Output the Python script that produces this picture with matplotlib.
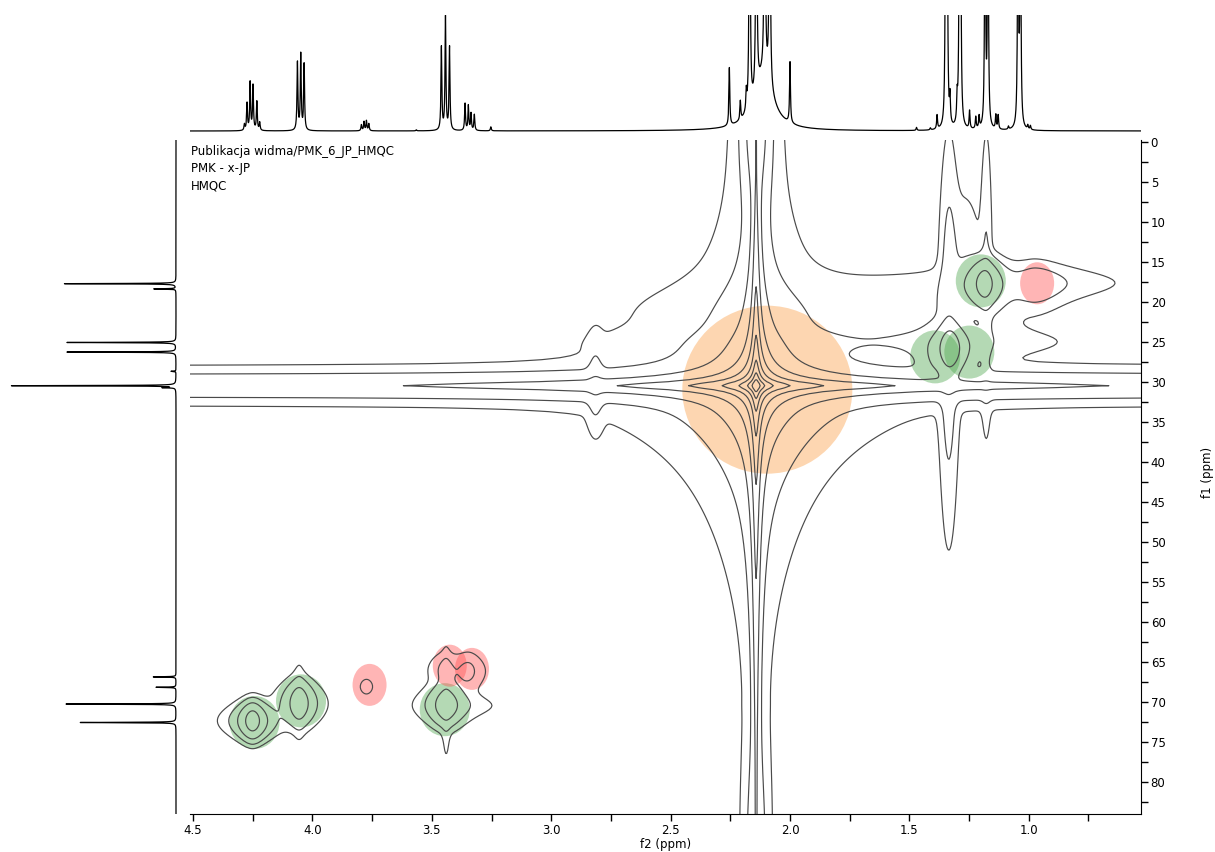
import numpy as np
import matplotlib
matplotlib.use("Agg")
import matplotlib.pyplot as plt
from matplotlib.patches import Ellipse

# 1H trace (top): line positions (ppm) and heights (px above baseline)
h_ppm = [4.285, 4.274, 4.261, 4.249, 4.233, 4.221,
         4.063, 4.049, 4.035,
         3.795, 3.784, 3.774, 3.764, 3.565,
         3.460, 3.443, 3.426,
         3.361, 3.347, 3.336, 3.322, 3.253,
         2.254, 2.208, 2.183, 2.169, 2.141, 2.106, 2.085, 2.000,
         1.470, 1.412, 1.384, 1.348, 1.342, 1.330, 1.300, 1.290, 1.286,
         1.248, 1.222, 1.208, 1.183, 1.171, 1.138, 1.128, 1.085,
         1.045, 1.035, 1.004, 0.993]
h_height = [6, 27, 48, 45, 29, 8,
            68, 76, 66,
            6, 9, 10, 7, 1,
            83, 114, 83,
            27, 25, 17, 16, 4,
            58, 19, 19, 400, 400, 400, 400, 61,
            3, 2, 14, 300, 300, 26, 23, 300, 300,
            18, 12, 12, 300, 300, 14, 14, 3,
            300, 300, 4, 4]
# broad solvent hump under the 2.1 ppm lines
hump_ppm, hump_height, hump_width = 2.11, 55, 0.045

# 13C trace (left): line positions (ppm) and heights (px)
c_ppm = [17.75, 18.4, 25.1, 26.3, 28.7, 30.5, 30.75, 66.9, 68.2, 70.3, 72.6]
c_height = [112, 22, 109, 109, 5, 166, 12, 23, 20, 113, 96]

# HMQC cross peaks: f2, f1, amplitude (lowest contour = 1), f2 width, f1 sigma
xp_f2 = [4.251, 4.056, 3.774, 3.440, 3.446, 3.348, 1.186, 0.971, 1.330, 1.405]
xp_f1 = [72.4, 70.2, 68.1, 70.4, 66.0, 66.2, 17.75, 18.0, 25.9, 27.2]
xp_amp = [100, 30, 1.7, 30, 5, 5, 90, 6, 120, 6]
xp_w2 = [0.049, 0.057, 0.045, 0.063, 0.06, 0.063, 0.058, 0.12, 0.055, 0.05]
xp_w1 = [1.14, 1.5, 0.85, 1.4, 1.2, 1.3, 1.5, 1.6, 1.6, 1.5]

# solvent (acetone) signal: sharp part and broad foot
solv_f2, solv_f1 = 2.142, 30.5
solv_amp, solv_w2, solv_w1 = 195000, 0.009, 0.4
foot_amp, foot_w2, foot_w1 = 20, 0.15, 6.0

# t1-noise streaks along f1: f2, f1, amplitude, f2 sigma, f1 sigma up / down
vs_f2 = [2.142, 2.142, 2.142, 2.815, 1.335, 1.178, 1.27, 3.440, 4.056]
vs_f1 = [-3.0, -3.0, 90.0, 30.5, 24.0, 17.7, 17.7, 70.4, 70.2]
vs_amp = [24, 1.5, 6, 5.4, 7, 4, 3, 2.5, 2]
vs_s2 = [0.033, 0.07, 0.033, 0.02, 0.022, 0.014, 0.05, 0.012, 0.015]
vs_up = [6, 10, 10, 3, 12.7, 11, 7, 4.5, 3.5]
vs_down = [6, 10, 10, 3, 13.5, 10.5, 2, 4.5, 3]

# tails along f2: f2, f1, amplitude, f2 width left / right, f1 sigma
hs_f2 = [2.142, 1.186, 0.971, 1.330, 3.440]
hs_f1 = [30.5, 20.5, 17.6, 25.0, 70.5]
hs_amp = [7, 3, 3.6, 3, 2.5]
hs_left = [1e4, 0.6, 0.05, 0.5, 0.04]
hs_right = [1e4, 0.1, 0.18, 0.25, 0.12]
hs_s1 = [1.25, 2.6, 1.2, 1.2, 0.9]

# highlighted assignments
green_f2 = [4.243, 4.048, 3.446, 1.201, 1.392, 1.249]
green_f1 = [72.6, 69.9, 71.0, 17.4, 26.9, 26.3]
red_f2 = [3.761, 3.425, 3.332, 0.965]
red_f1 = [67.9, 65.5, 65.9, 17.7]
orange_f2 = [2.095]
orange_f1 = [31.0]


def lor(d, w, p=1.0):
    return (1.0 + (d / w) ** 2) ** (-p)


def side_lor(d, w_neg, w_pos):
    return np.where(d < 0, lor(d, w_neg), lor(d, w_pos))


def side_gau(d, s_neg, s_pos):
    s = np.where(d < 0, s_neg, s_pos)
    return np.exp(-0.5 * (d / s) ** 2)


# ---- build 2D map ----
f2 = np.arange(0.45, 4.60, 0.004)
f1 = np.arange(-1.0, 85.0, 0.25)
X, Y = np.meshgrid(f2, f1)

Z = solv_amp * lor(X - solv_f2, solv_w2) * lor(Y - solv_f1, solv_w1)
Z += foot_amp * lor(X - solv_f2, foot_w2) * lor(Y - solv_f1, foot_w1)
for a, b, amp, w2, w1 in zip(xp_f2, xp_f1, xp_amp, xp_w2, xp_w1):
    Z += amp * lor(X - a, w2, 2) * np.exp(-0.5 * ((Y - b) / w1) ** 2)
for a, b, amp, s2, up, dn in zip(vs_f2, vs_f1, vs_amp, vs_s2, vs_up, vs_down):
    Z += amp * np.exp(-0.5 * ((X - a) / s2) ** 2) * side_gau(Y - b, up, dn)
for a, b, amp, wl, wr, s1 in zip(hs_f2, hs_f1, hs_amp, hs_left, hs_right, hs_s1):
    # f2 axis is reversed: larger ppm is to the left
    Z += amp * side_lor(a - X, wl, wr) * np.exp(-0.5 * ((Y - b) / s1) ** 2)

levels = 3.8 ** np.arange(9)

# ---- figure ----
W, H = 1215, 852
fig = plt.figure(figsize=(W / 100, H / 100), dpi=100)

x0, x1 = 190, 1141
y_top, y_bot = 140, 814
xlim = (4.513, 0.53)
ylim = (84.04, -0.21)

ax = fig.add_axes([x0 / W, 1 - y_bot / H, (x1 - x0) / W, (y_bot - y_top) / H])
ax_top = fig.add_axes([x0 / W, 1 - 133 / H, (x1 - x0) / W, 118 / H])
ax_left = fig.add_axes([0, 1 - y_bot / H, 178 / W, (y_bot - y_top) / H])

# highlight circles (under the contours)
px2 = (xlim[0] - xlim[1]) / (x1 - x0)
px1 = (ylim[0] - ylim[1]) / (y_bot - y_top)


def blobs(xs, ys, rx, ry, color, alpha):
    for a, b in zip(xs, ys):
        ax.add_patch(Ellipse((a, b), 2 * rx * px2, 2 * ry * px1,
                             facecolor=color, edgecolor="none", alpha=alpha, zorder=1))


blobs(orange_f2, orange_f1, 85, 84, "#fb9a3c", 0.40)
blobs(green_f2, green_f1, 25, 26.5, "#4ca64c", 0.42)
blobs(red_f2, red_f1, 17, 21, "#ff5050", 0.42)

ax.contour(X, Y, Z, levels=levels, colors="#4a4a4a", linewidths=0.85, zorder=2)

ax.set_xlim(*xlim)
ax.set_ylim(*ylim)
for s in ["top", "left"]:
    ax.spines[s].set_visible(False)
ax.yaxis.tick_right()
ax.set_xticks(np.arange(4.5, 0.9, -0.5))
ax.set_xticklabels(["4.5", "4.0", "3.5", "3.0", "2.5", "2.0", "1.5", "1.0"])
ax.set_xticks(np.arange(4.25, 0.6, -0.5), minor=True)
ax.set_yticks(np.arange(0, 81, 5))
ax.set_yticks(np.arange(2.5, 84, 5), minor=True)
ax.tick_params(axis="both", which="both", direction="out", length=5, width=1,
               labelsize=8.5, pad=2)
ax.set_xlabel("f2 (ppm)", fontsize=8.5, labelpad=1)
fig.text(1207 / W, 1 - 472 / H, "f1 (ppm)", rotation=90, fontsize=8.5,
         ha="center", va="center")

ax.text(0.001, 0.993, "Publikacja widma/PMK_6_JP_HMQC\nPMK - x-JP\nHMQC",
        transform=ax.transAxes, ha="left", va="top", fontsize=8.5, linespacing=1.45)

# ---- 1H trace ----
xs = np.linspace(xlim[1], xlim[0], 9000)
spec = hump_height * lor(xs - hump_ppm, hump_width)
for p, h in zip(h_ppm, h_height):
    spec += h * lor(xs - p, 0.0022)
ax_top.plot(xs, spec, color="black", lw=0.9)
ax_top.set_xlim(*xlim)
ax_top.set_ylim(-2, 116)
ax_top.axis("off")

# ---- 13C trace ----
ys = np.linspace(ylim[1], ylim[0], 8000)
cspec = np.zeros_like(ys)
for p, h in zip(c_ppm, c_height):
    cspec += h * lor(ys - p, 0.03)
ax_left.plot(-cspec, ys, color="black", lw=0.9)
ax_left.set_xlim(-176, 2)
ax_left.set_ylim(*ylim)
ax_left.axis("off")

fig.savefig("out.png", dpi=100)
